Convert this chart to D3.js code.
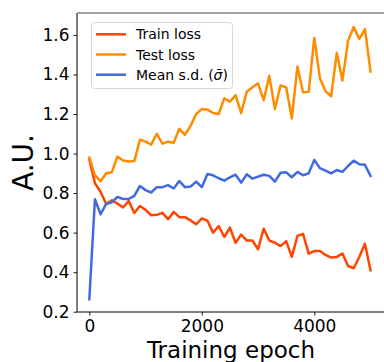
<!DOCTYPE html>
<html>
<head>
<meta charset="utf-8">
<script src="https://cdn.jsdelivr.net/npm/d3@7"></script>
<style>
  body { margin: 0; background: #fff; }
  svg { display: block; font-family: "DejaVu Sans", sans-serif; }
</style>
</head>
<body>
<svg id="chart" width="384" height="362"></svg>
<script>
// epochs 0..5000 every 100
var epochs = d3.range(0, 5001, 100);

var trainLoss = [0.97, 0.85, 0.807, 0.745, 0.764, 0.747, 0.727, 0.76, 0.70, 0.735,
                 0.715, 0.688, 0.69, 0.70, 0.668, 0.705, 0.678, 0.678, 0.662, 0.642,
                 0.672, 0.66, 0.60, 0.633, 0.578, 0.625, 0.549, 0.59, 0.56, 0.56,
                 0.516, 0.62, 0.56, 0.549, 0.532, 0.557, 0.477, 0.583, 0.594, 0.494,
                 0.507, 0.507, 0.487, 0.474, 0.477, 0.494, 0.431, 0.42, 0.477, 0.544,
                 0.41];

var testLoss = [0.98, 0.89, 0.86, 0.90, 0.905, 0.985, 0.965, 0.96, 0.962, 1.07,
                1.06, 1.045, 1.10, 1.05, 1.06, 1.055, 1.125, 1.095, 1.14, 1.20,
                1.225, 1.222, 1.205, 1.20, 1.28, 1.262, 1.295, 1.205, 1.313, 1.335,
                1.355, 1.27, 1.393, 1.225, 1.345, 1.335, 1.178, 1.44, 1.31, 1.312,
                1.585, 1.38, 1.315, 1.29, 1.51, 1.37, 1.57, 1.64, 1.58, 1.63,
                1.415];

var meanSd = [0.263, 0.769, 0.693, 0.745, 0.754, 0.78, 0.77, 0.77, 0.786, 0.836,
              0.815, 0.803, 0.83, 0.83, 0.84, 0.823, 0.861, 0.83, 0.833, 0.858,
              0.83, 0.897, 0.89, 0.875, 0.863, 0.88, 0.893, 0.853, 0.895, 0.873,
              0.883, 0.893, 0.887, 0.858, 0.903, 0.905, 0.88, 0.907, 0.89, 0.90,
              0.968, 0.926, 0.914, 0.90, 0.917, 0.907, 0.937, 0.964, 0.946, 0.943,
              0.887];

var xTicks = [0, 2000, 4000];
var yTicks = [0.2, 0.4, 0.6, 0.8, 1.0, 1.2, 1.4, 1.6];

var series = [
  { name: "Train loss", values: trainLoss, color: "#ff4500" },
  { name: "Test loss", values: testLoss, color: "#ff8c00" },
  { name: "Mean s.d.", values: meanSd, color: "#4169e1" }
];

// plot box (top/bottom renamed: "top" clashes with window.top)
var pl = 77, pr = 385, pt = 13, pb = 312;

var svg = d3.select("#chart");

var x = d3.scaleLinear().domain([-219, 5257]).range([pl, pr]);
var y = d3.scaleLinear().domain([0.1985, 1.711]).range([pb, pt]);

// axes
var xAxis = svg.append("g")
    .attr("transform", "translate(0," + pb + ")")
    .call(d3.axisBottom(x).tickValues(xTicks).tickFormat(d3.format("d"))
          .tickSizeInner(3.5).tickSizeOuter(0).tickPadding(4));
var yAxis = svg.append("g")
    .attr("transform", "translate(" + pl + ",0)")
    .call(d3.axisLeft(y).tickValues(yTicks).tickFormat(d3.format(".1f"))
          .tickSizeInner(3.5).tickSizeOuter(0).tickPadding(4));

[xAxis, yAxis].forEach(function(a) {
  a.select(".domain").remove();
  a.selectAll("line").attr("stroke", "#000").attr("stroke-width", 0.9);
  a.selectAll("text").attr("font-family", "DejaVu Sans").attr("font-size", 17).attr("fill", "#000");
});

// spines
svg.append("line").attr("x1", pl).attr("x2", pl).attr("y1", pt).attr("y2", pb)
   .attr("stroke", "#000").attr("stroke-width", 1);
svg.append("line").attr("x1", pl).attr("x2", pr).attr("y1", pb).attr("y2", pb)
   .attr("stroke", "#000").attr("stroke-width", 1);
svg.append("line").attr("x1", pl).attr("x2", pr).attr("y1", pt).attr("y2", pt)
   .attr("stroke", "#808080").attr("stroke-width", 1.4);

// lines
var line = d3.line().x(function(d, i) { return x(epochs[i]); }).y(function(d) { return y(d); });
series.forEach(function(s) {
  svg.append("path").datum(s.values)
     .attr("d", line)
     .attr("fill", "none")
     .attr("stroke", s.color)
     .attr("stroke-width", 2.5)
     .attr("stroke-linejoin", "round")
     .attr("stroke-linecap", "square");
});

// axis labels
svg.append("text")
   .attr("x", (pl + pr) / 2).attr("y", 358)
   .attr("text-anchor", "middle").attr("font-size", 23)
   .text("Training epoch");
svg.append("text")
   .attr("transform", "translate(33," + (pt + pb) / 2 + ") rotate(-90)")
   .attr("text-anchor", "middle").attr("font-size", 28)
   .text("A.U.");

// legend
var lg = svg.append("g");
lg.append("rect")
  .attr("x", 91.5).attr("y", 22.5).attr("width", 141).attr("height", 66)
  .attr("rx", 3).attr("fill", "#fff").attr("fill-opacity", 0.8)
  .attr("stroke", "#d6d6d6").attr("stroke-width", 1);
series.forEach(function(s, i) {
  var ly = 34.3 + i * 20.2;
  lg.append("line").attr("x1", 96).attr("x2", 126).attr("y1", ly).attr("y2", ly)
    .attr("stroke", s.color).attr("stroke-width", 2.5);
  var t = lg.append("text").attr("x", 136).attr("y", ly + 5).attr("font-size", 14);
  if (i < 2) {
    t.text(s.name);
  } else {
    t.append("tspan").text(s.name + " (");
    t.append("tspan").attr("font-style", "italic").text("\u03C3\u0304");
    t.append("tspan").text(")");
  }
});
</script>
</body>
</html>
